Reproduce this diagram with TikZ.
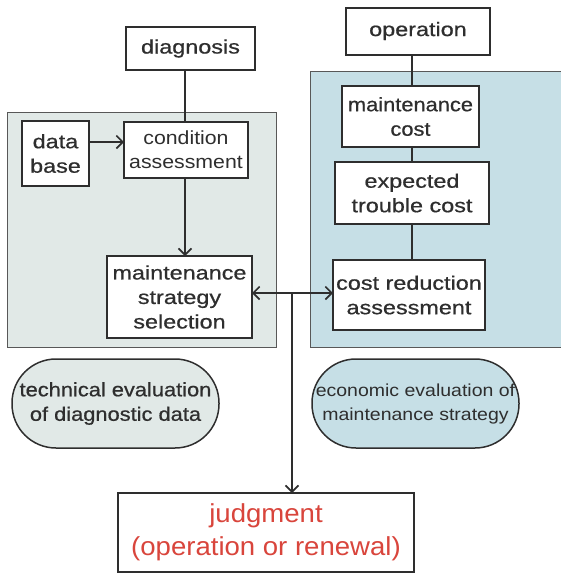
\documentclass[tikz,border=0pt]{standalone}
\usepackage{fontspec}
\setmainfont{Liberation Sans}[FakeStretch=1.2]
\newfontfamily\heavyfont{Liberation Sans}[FakeStretch=1.2,FakeBold=0.7]
\newfontfamily\techfont{Liberation Sans}[FakeStretch=1.12,FakeBold=0.7]
\newfontfamily\lightfont{Liberation Sans}[FakeStretch=1.12]
\newfontfamily\judgfont{Liberation Sans}[FakeStretch=1.06]
\usetikzlibrary{arrows.meta}
\definecolor{ink}{HTML}{2E2E2E}
\definecolor{leftfill}{HTML}{E1E9E7}
\definecolor{rightfill}{HTML}{C6DFE6}
\definecolor{judgred}{HTML}{D9453C}
\begin{document}
\begin{tikzpicture}[x=1pt,y=-1pt,
  txt/.style={font=\heavyfont\fontsize{19.5}{24.5}\selectfont, text=ink, align=center, inner sep=0pt},
  ttxt/.style={font=\techfont\fontsize{19.5}{24.5}\selectfont, text=ink, align=center, inner sep=0pt},
  ltxt/.style={font=\lightfont\fontsize{19}{24}\selectfont, text=ink, align=center, inner sep=0pt},
  etxt/.style={font=\lightfont\fontsize{17.4}{24}\selectfont, text=ink, align=center, inner sep=0pt},
  panel/.style={draw=ink!80, line width=0.8pt},
  box/.style={draw=ink, line width=1.1pt, fill=white},
  pill/.style={draw=ink, line width=1.5pt, rounded corners=44pt},
  conn/.style={draw=ink, line width=2pt},
  tip/.style={Straight Barb[length=6.5pt,width=13pt,line width=1.6pt]},
  arr/.style={conn, -{Straight Barb[length=6.5pt,width=13pt,line width=1.6pt]}},
  darr/.style={conn, {Straight Barb[length=6.5pt,width=13pt,line width=1.6pt]}-{Straight Barb[length=6.5pt,width=13pt,line width=1.6pt]}}]
\useasboundingbox (0,0) rectangle (561,574);
% panels
\path[panel, fill=leftfill] (7,112) rectangle (276,347);
\path[panel, fill=rightfill] (310,71) rectangle (566,347);
% boxes
\path[box] (126,27) rectangle (255,70);
\node[txt] (diag) at (190.5,48.5) {diagnosis};
\path[box, line width=2.2pt] (346,8) rectangle (490,55);
\node[txt] (oper) at (418,31) {operation};
\path[box] (22,121) rectangle (89,186);
\node[txt] (base) at (55.5,153.5) {data\\base};
\path[box] (124,122) rectangle (248,178);
\node[ltxt] (cond) at (186,150) {condition\\assessment};
\path[box] (107,256) rectangle (252,338);
\node[txt] (mss) at (179.5,297) {maintenance\\strategy\\selection};
\path[box] (342,86) rectangle (479,147);
\node[ttxt] (mcost) at (410.5,116.5) {maintenance\\cost};
\path[box] (335,162) rectangle (489,224);
\node[txt] (etc) at (412,193) {expected\\trouble cost};
\path[box] (333,260) rectangle (485,330);
\node[txt] (crs) at (409,295) {cost reduction\\assessment};
% named anchor coordinates for box edges
\coordinate (diagB) at (185,70);
\coordinate (condT) at (185,122);
\coordinate (condB) at (185,178);
\coordinate (mssT) at (185,256);
\coordinate (baseR) at (89,142);
\coordinate (condL) at (124,142);
\coordinate (operB) at (412,55);
\coordinate (mcT) at (412,86);
\coordinate (mcB) at (412,147);
\coordinate (etT) at (412,162);
\coordinate (etB) at (412,224);
\coordinate (crT) at (412,260);
\coordinate (mssR) at (252,293);
\coordinate (crL) at (333,293);
\coordinate (j) at (292,293);
\coordinate (judT) at (292,493);
% connectors
\draw[conn] (diagB) -- (condT);
\draw[arr] (condB) -- (mssT);
\draw[arr] (baseR) -- (condL);
\draw[conn] (operB) -- (mcT);
\draw[conn] (mcB) -- (etT);
\draw[conn] (etB) -- (crT);
\draw[darr] (mssR) -- (crL);
% pills
\path[pill, fill=leftfill] (12,359) rectangle (219,448);
\node[ttxt] (tech) at (115.5,403.5) {technical evaluation\\of diagnostic data};
\path[pill, fill=rightfill] (312,359) rectangle (519,448);
\node[etxt] (econ) at (415.5,403.5) {economic evaluation of\\maintenance strategy};
% judgment
\path[box, line width=2.2pt] (118,493) rectangle (414,572);
\node[font=\judgfont\fontsize{26}{33}\selectfont, text=judgred, align=center, inner sep=0pt] (judg) at (266,532.5) {judgment\\(operation or renewal)};
\draw[arr] (j) -- (judT);
\end{tikzpicture}
\end{document}
